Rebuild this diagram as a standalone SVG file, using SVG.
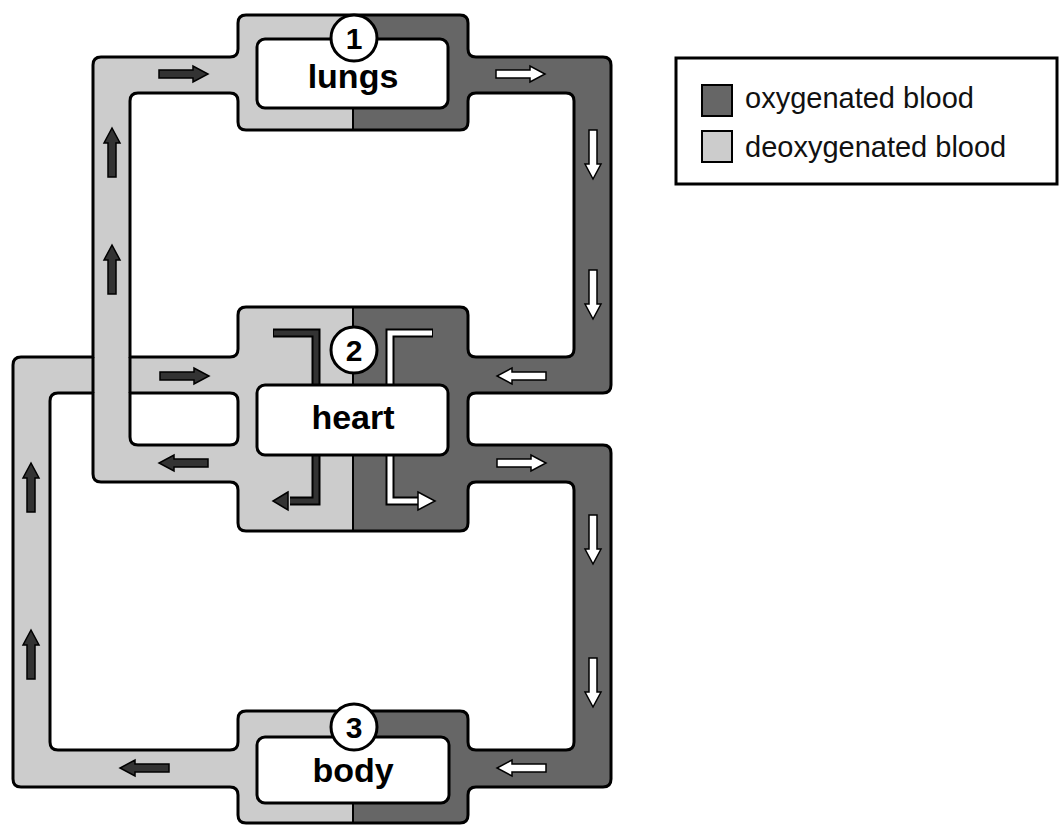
<svg xmlns="http://www.w3.org/2000/svg" width="1060" height="825" viewBox="0 0 1060 825">
<style>
.out{fill:none;stroke:#000;stroke-width:3;stroke-linejoin:round}
.light{fill:#cccccc}
.dark{fill:#666666}
.split{stroke:#000;stroke-width:2}
.box{fill:#fff;stroke:#000;stroke-width:3}
.lbl{font-family:"Liberation Sans",Arial,sans-serif;font-weight:bold;font-size:34px;text-anchor:middle;fill:#000}
.num{font-family:"Liberation Sans",Arial,sans-serif;font-weight:bold;font-size:30px;text-anchor:middle;fill:#000}
.ad{fill:#333333;stroke:#000;stroke-width:1.5}
.aw{fill:#ffffff;stroke:#000;stroke-width:1.5}
.ldo{fill:none;stroke:#000;stroke-width:9}
.ldi{fill:none;stroke:#333333;stroke-width:5}
.lwi{fill:none;stroke:#ffffff;stroke-width:5}
.leg{font-family:"Liberation Sans",Arial,sans-serif;font-size:29px;fill:#111}
</style>
<defs>
<path id="sys" fill-rule="evenodd" d="M 246 15 H 460 Q 468 15 468 23 V 49 Q 468 57 476 57 H 603 Q 611 57 611 65 V 385 Q 611 393 603 393 H 476 Q 468 393 468 401 V 437 Q 468 445 476 445 H 603 Q 611 445 611 453 V 779 Q 611 787 603 787 H 476 Q 468 787 468 795 V 815 Q 468 823 460 823 H 246 Q 238 823 238 815 V 795 Q 238 787 230 787 H 21 Q 13 787 13 779 V 365 Q 13 357 21 357 H 93 V 65 Q 93 57 101 57 H 230 Q 238 57 238 49 V 23 Q 238 15 246 15 Z M 138 93 H 230 Q 238 93 238 101 V 122 Q 238 130 246 130 H 460 Q 468 130 468 122 V 101 Q 468 93 476 93 H 566 Q 574 93 574 101 V 349 Q 574 357 566 357 H 476 Q 468 357 468 349 V 315 Q 468 307 460 307 H 246 Q 238 307 238 315 V 349 Q 238 357 230 357 H 130 V 101 Q 130 93 138 93 Z M 130 393 H 230 Q 238 393 238 401 V 437 Q 238 445 230 445 H 138 Q 130 445 130 437 Z M 58 393 H 93 V 474 Q 93 482 101 482 H 230 Q 238 482 238 490 V 523 Q 238 531 246 531 H 460 Q 468 531 468 523 V 490 Q 468 482 476 482 H 566 Q 574 482 574 490 V 742 Q 574 750 566 750 H 476 Q 468 750 468 742 V 719 Q 468 711 460 711 H 246 Q 238 711 238 719 V 742 Q 238 750 230 750 H 58 Q 50 750 50 742 V 401 Q 50 393 58 393 Z"/>
<clipPath id="cl"><rect x="0" y="0" width="353" height="825"/></clipPath>
<clipPath id="cr"><rect x="353" y="0" width="707" height="825"/></clipPath>
<polygon id="arr" points="0,-4 34,-4 34,-8 49,0 34,8 34,4 0,4"/>
</defs>
<rect x="0" y="0" width="1060" height="825" fill="#fff"/>
<g id="connectors">
<use href="#sys" class="light" clip-path="url(#cl)"/>
<use href="#sys" class="dark" clip-path="url(#cr)"/>
<use href="#sys" class="out"/>
<path class="out" d="M 93 357 V 393 M 130 357 V 393"/>
<use href="#arr" class="ad" transform="translate(159,74)"/>
<use href="#arr" class="aw" transform="translate(496,74)"/>
<use href="#arr" class="aw" transform="translate(593,130) rotate(90)"/>
<use href="#arr" class="aw" transform="translate(593,270) rotate(90)"/>
<use href="#arr" class="ad" transform="translate(112,177) rotate(-90)"/>
<use href="#arr" class="ad" transform="translate(112,294) rotate(-90)"/>
<use href="#arr" class="ad" transform="translate(160,376)"/>
<use href="#arr" class="ad" transform="translate(208,463) rotate(180)"/>
<use href="#arr" class="aw" transform="translate(546,376) rotate(180)"/>
<use href="#arr" class="aw" transform="translate(497,463)"/>
<use href="#arr" class="aw" transform="translate(593,515) rotate(90)"/>
<use href="#arr" class="aw" transform="translate(593,658) rotate(90)"/>
<use href="#arr" class="aw" transform="translate(546,768) rotate(180)"/>
<use href="#arr" class="ad" transform="translate(169,768) rotate(180)"/>
<use href="#arr" class="ad" transform="translate(31,512) rotate(-90)"/>
<use href="#arr" class="ad" transform="translate(31,679) rotate(-90)"/>
</g>
<g id="lungs">
<line class="split" x1="353" y1="15" x2="353" y2="130"/>
<rect class="box" x="257" y="39" width="191" height="69" rx="8"/>
<circle class="box" cx="354" cy="38" r="23"/>
<text class="num" x="354" y="49">1</text>
<text class="lbl" x="353" y="88">lungs</text>
</g>
<g id="heart">
<line class="split" x1="353" y1="307" x2="353" y2="531"/>
<path class="ldo" d="M 273 333 H 316 V 501 H 290"/>
<path class="ldi" d="M 274 333 H 316 V 501 H 290"/>
<polygon class="ad" points="288,492 273,501 288,510"/>
<path class="ldo" d="M 433 333 H 390 V 501 H 418"/>
<path class="lwi" d="M 432 333 H 390 V 501 H 419"/>
<polygon class="aw" points="418,492 435,501 418,510"/>
<circle class="box" cx="354" cy="350" r="23"/>
<text class="num" x="354" y="361">2</text>
<rect class="box" x="257" y="385" width="191" height="70" rx="8"/>
<text class="lbl" x="353" y="429">heart</text>
</g>
<g id="body">
<line class="split" x1="353" y1="711" x2="353" y2="823"/>
<rect class="box" x="257" y="737" width="192" height="66" rx="8"/>
<circle class="box" cx="354" cy="727" r="23"/>
<text class="num" x="354" y="738">3</text>
<text class="lbl" x="353" y="782">body</text>
</g>
<g id="legend">
<rect x="676" y="58" width="381" height="126" fill="#fff" stroke="#000" stroke-width="3"/>
<rect x="702" y="85" width="30" height="31" fill="#666666" stroke="#000" stroke-width="2"/>
<rect x="702" y="131" width="30" height="31" fill="#cccccc" stroke="#000" stroke-width="2"/>
<text class="leg" x="745" y="108">oxygenated blood</text>
<text class="leg" x="745" y="157">deoxygenated blood</text>
</g>
</svg>
